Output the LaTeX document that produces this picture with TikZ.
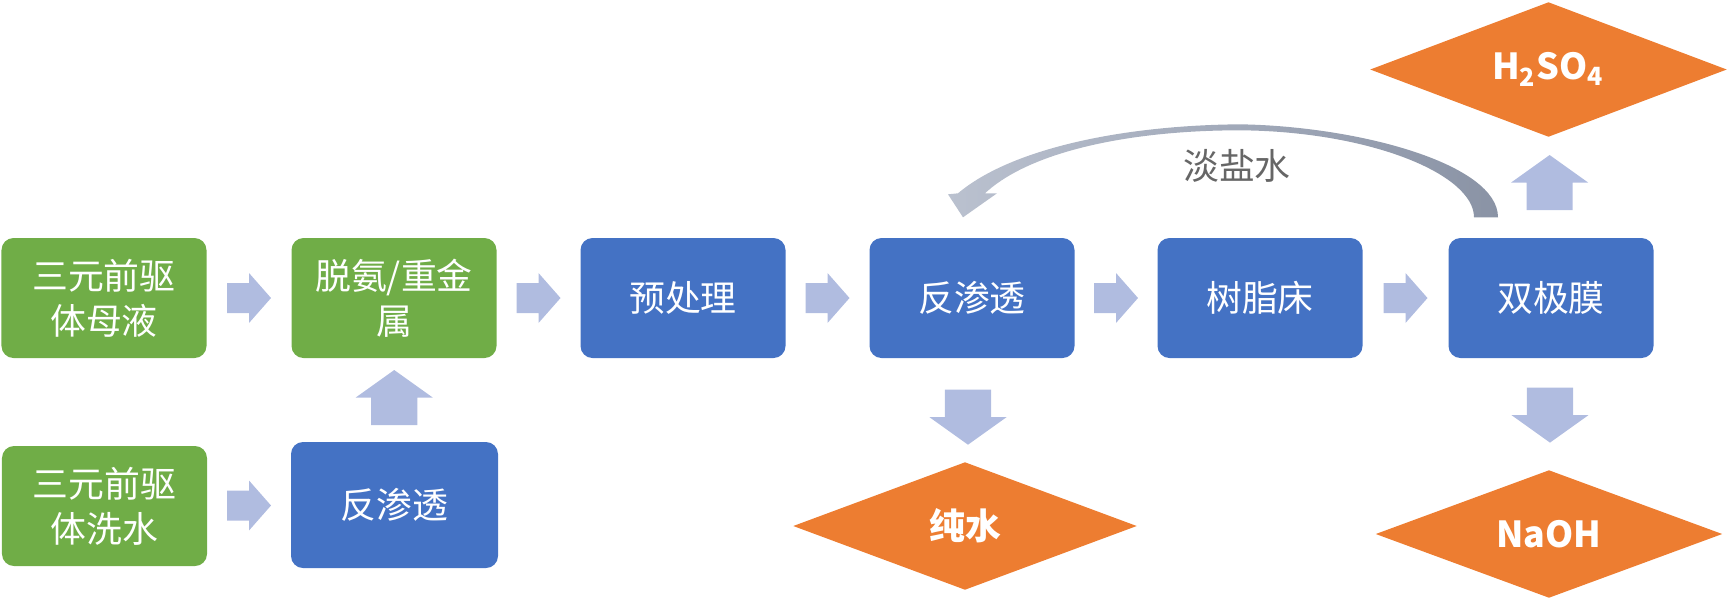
\documentclass[tikz,border=0pt]{standalone}
\usepackage{fontspec}
\setmainfont{Noto Sans CJK SC}
\usepackage{xcolor}
\usetikzlibrary{calc, positioning, shapes.geometric}
\definecolor{stagegreen}{HTML}{70AD47}
\definecolor{stageblue}{HTML}{4472C4}
\definecolor{productorange}{HTML}{ED7D31}
\definecolor{flowblue}{RGB}{176,188,224}
\definecolor{returnlight}{RGB}{186,193,207}
\definecolor{returndark}{RGB}{138,147,165}
\definecolor{labelgray}{HTML}{666666}
\tikzset{
    stage/.style={rounded corners=0.12cm, minimum width=2.05cm, minimum height=1.2cm, inner sep=0pt, text=white, align=center, font=\fontsize{10.2pt}{12.8pt}\selectfont},
    greenstage/.style={stage, fill=stagegreen},
    bluestage/.style={stage, fill=stageblue},
    product/.style={diamond, aspect=2.7, inner sep=0pt, fill=productorange, text=white, font=\bfseries\fontsize{10.2pt}{12.8pt}\selectfont, minimum width=3.45cm, minimum height=1.28cm},
    flowfill/.style={fill=flowblue},
}
\newcommand{\blockarrow}[5]{
    \coordinate (#1) at (#2);
    \fill[flowfill, shift={(#1)}, rotate=#3]
    (-#4/2, -0.3*#5) -- (0, -0.3*#5) -- (0, -#5/2) -- (#4/2, 0) -- (0, #5/2) -- (0, 0.3*#5) -- (-#4/2, 0.3*#5) -- cycle;
}

\begin{document}
\begin{tikzpicture}
    \useasboundingbox (0, 0) rectangle (17.28, 5.99);
    \node[greenstage] (ml) at (1.04, 3.01) {三元前驱\\体母液};
    \node[greenstage] (tk) at (3.94, 3.01) {脱氨/重金\\属};
    \node[greenstage] (xs) at (1.045, 0.93) {三元前驱\\体洗水};
    \node[bluestage, minimum width=2.07cm, minimum height=1.26cm] (ro) at (3.945, 0.94) {反渗透};
    \node[bluestage] (yc) at (6.83, 3.01) {预处理};
    \node[bluestage] (rt) at (9.72, 3.01) {反渗透};
    \node[bluestage] (sz) at (12.60, 3.01) {树脂床};
    \node[bluestage] (sj) at (15.51, 3.01) {双极膜};
    \node[product, minimum width=3.44cm] (cs) at (9.65, 0.73) {纯水};
    \node[product, minimum width=3.47cm] (na) at (15.49, 0.65) {NaOH};
    \node[product, minimum width=3.57cm, minimum height=1.35cm] (hs) at (15.485, 5.295) {H\textsubscript{2}SO\textsubscript{4}};
    \blockarrow{a1}{$(ml.east)!0.5!(tk.west)$}{0}{0.44}{0.5}
    \blockarrow{a2}{$(xs.east)!0.5!(ro.west)$}{0}{0.44}{0.5}
    \blockarrow{a3}{$(ro.north)!0.53!(tk.south)$}{90}{0.55}{0.77}
    \blockarrow{a4}{$(tk.east)!0.5!(yc.west)$}{0}{0.44}{0.5}
    \blockarrow{a5}{$(yc.east)!0.5!(rt.west)$}{0}{0.44}{0.5}
    \blockarrow{a6}{$(rt.east)!0.5!(sz.west)$}{0}{0.44}{0.5}
    \blockarrow{a7}{$(sz.east)!0.5!(sj.west)$}{0}{0.44}{0.5}
    \blockarrow{a8}{$(rt.south)!0.57!(cs.north)$}{-90}{0.55}{0.77}
    \blockarrow{a9}{$(sj.south)!0.51!(na.north)$}{-90}{0.55}{0.77}
    \blockarrow{a10}{$(sj.north)!0.55!(hs.south)$}{90}{0.55}{0.77}
    \coordinate (rb) at ($(rt.north)+(-0.09, 0.2)$);
    \shade[left color=returnlight, right color=returndark, shift={(rb)}]
    (-0.05, 0.24) .. controls (0.47, 0.68) and (1.57, 0.92) .. (2.77, 0.93)
    .. controls (3.97, 0.91) and (5.35, 0.53) .. (5.35, 0)
    -- (5.11, 0) .. controls (5.11, 0.43) and (4.07, 0.86) .. (2.77, 0.87)
    .. controls (1.67, 0.87) and (0.67, 0.66) .. (0.22, 0.24)
    -- (0.34, 0.24) -- (0, 0) -- (-0.15, 0.23) -- cycle;
    \node[text=labelgray, font=\fontsize{10.2pt}{12.8pt}\selectfont] (ds) at (12.37, 4.33) {淡盐水};
\end{tikzpicture}
\end{document}
